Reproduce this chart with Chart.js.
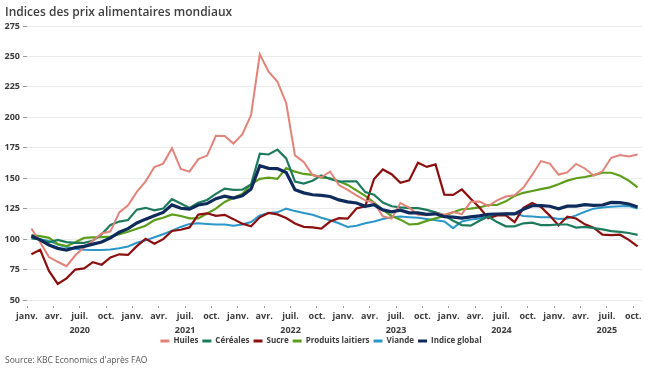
<!DOCTYPE html>
<html>
<head>
<meta charset="utf-8">
<script src="https://cdn.jsdelivr.net/npm/chart.js@4.4.1/dist/chart.umd.min.js"></script>
<style>
  html, body { margin: 0; padding: 0; background: #fff; }
  #wrap { position: relative; width: 652px; height: 371px; }
  #title { position: absolute; left: 5px; top: 3px; font: 600 12px "Open Sans", sans-serif; color: #404040; }
  #source { position: absolute; left: 5px; top: 354px; font: 400 8.5px "Open Sans", sans-serif; color: #555; }
</style>
</head>
<body>
<div id="wrap">
  <canvas id="chart" width="652" height="371"></canvas>
  <div id="title">Indices des prix alimentaires mondiaux</div>
  <div id="source">Source: KBC Economics d'après FAO</div>
</div>
<script>
// --- Data: monthly, janv. 2020 -> oct. 2025 ---
const tickMonths = ['janv.', 'avr.', 'juil.', 'oct.'];
const tickYears = ['2020', '2021', '2022', '2023', '2024', '2025'];

const huiles = [
  108.7, 97.5, 85.3, 81.4, 77.8, 86.7, 93.2, 98.7, 104.6, 106.4, 121.9, 127.8,
  138.8, 147.4, 159.2, 162.0, 174.7, 157.6, 155.4, 165.7, 168.6, 184.8, 184.6, 178.5,
  185.9, 201.7, 251.8, 237.5, 229.3, 211.8, 168.8, 163.3, 152.6, 150.8, 155.5, 144.4,
  140.4, 135.9, 131.8, 130.0, 118.7, 116.8, 129.6, 125.8, 120.0, 119.6, 121.3, 120.0,
  122.3, 120.5, 130.6, 130.9, 127.2, 131.8, 135.0, 136.0, 142.4, 152.7, 164.1, 162.0,
  153.0, 154.8, 161.8, 158.0, 152.2, 155.7, 166.8, 169.1, 167.9, 169.4
];
const cereales = [
  100.6, 99.7, 97.4, 99.3, 97.5, 96.9, 96.9, 98.7, 104.0, 111.6, 114.4, 115.7,
  124.2, 125.7, 123.6, 125.1, 132.8, 129.3, 125.5, 129.8, 132.1, 137.1, 141.5, 140.5,
  140.6, 144.8, 170.1, 169.5, 173.5, 166.3, 147.3, 145.6, 147.9, 152.3, 149.3, 147.3,
  147.5, 147.4, 138.6, 136.5, 130.0, 127.0, 126.0, 125.5, 125.5, 124.0, 122.0, 119.5,
  115.0, 111.5, 111.0, 115.0, 118.5, 114.0, 110.5, 110.5, 113.0, 113.5, 111.5, 111.5,
  112.0, 112.0, 109.5, 110.0, 109.0, 108.0, 106.5, 106.0, 105.0, 103.5
];
const sucre = [
  87.5, 91.3, 73.9, 63.2, 67.8, 75.0, 76.0, 81.1, 79.0, 85.0, 87.5, 87.0,
  94.2, 100.2, 96.2, 100.0, 106.7, 107.7, 109.6, 120.1, 121.2, 119.1, 119.9, 116.4,
  112.7, 110.6, 117.9, 121.5, 120.3, 117.3, 112.8, 110.1, 109.7, 108.6, 114.4, 117.2,
  116.8, 125.2, 127.0, 149.4, 157.2, 153.3, 146.3, 148.2, 162.7, 159.3, 161.4, 136.5,
  136.3, 140.8, 133.1, 125.9, 117.1, 119.4, 119.5, 113.9, 125.7, 129.6, 126.4, 119.3,
  111.2, 118.5, 116.9, 112.1, 109.4, 103.7, 103.3, 103.6, 99.4, 94.1
];
const laitiers = [
  103.3, 102.5, 101.0, 96.0, 94.2, 97.5, 101.0, 101.5, 101.6, 102.0, 104.0, 106.0,
  108.5, 111.0, 115.6, 117.5, 120.3, 119.0, 117.0, 117.0, 121.0, 125.0, 130.5, 134.0,
  137.0, 145.0, 149.5, 150.5, 149.5, 158.3, 155.4, 153.5, 152.7, 150.5, 150.0, 147.5,
  144.5, 140.0, 135.5, 130.0, 124.0, 119.0, 116.0, 112.0, 112.5, 115.0, 117.0, 119.0,
  122.0, 124.5, 125.0, 126.0, 128.0, 128.0, 131.0, 135.5, 138.0, 139.5, 141.0, 142.5,
  145.0, 148.0, 150.0, 151.0, 152.5, 154.5, 154.5, 152.0, 148.0, 142.5
];
const viande = [
  101.8, 100.0, 98.5, 95.5, 93.5, 92.0, 91.2, 91.0, 91.0, 91.5, 92.5, 94.0,
  97.0, 99.0, 101.5, 104.0, 107.0, 110.0, 112.5, 113.0, 112.5, 112.0, 112.0, 111.0,
  112.0, 114.0, 119.5, 121.5, 122.0, 125.0, 123.0, 121.5, 120.0, 117.5, 115.5, 113.0,
  110.0, 111.0, 113.0, 114.5, 116.5, 118.0, 118.5, 118.0, 117.5, 116.5, 115.5, 114.5,
  109.0, 114.5, 116.0, 117.0, 118.5, 120.0, 121.0, 121.0, 119.0, 118.5, 118.0, 118.0,
  116.5, 117.0, 119.5, 122.5, 125.0, 126.0, 126.5, 127.0, 127.2, 125.2
];
const indiceGlobal = [
  102.5, 99.4, 95.1, 92.4, 91.0, 93.1, 94.0, 95.9, 97.6, 101.0, 105.6, 108.6,
  113.3, 116.4, 119.2, 121.9, 128.1, 125.3, 124.6, 128.0, 129.2, 133.2, 135.3, 133.7,
  135.6, 141.1, 160.2, 158.1, 157.9, 154.7, 140.6, 138.0, 136.4, 135.9, 135.0, 132.2,
  130.6, 129.7, 127.0, 128.2, 124.0, 122.4, 123.8, 121.6, 121.5, 120.4, 120.8, 118.5,
  118.0, 117.3, 118.3, 119.1, 120.4, 120.6, 120.8, 120.7, 124.4, 127.4, 127.5, 127.0,
  124.9, 127.1, 127.1, 128.3, 127.7, 128.0, 130.1, 130.0, 128.8, 126.4
];

// month index -> point in the middle of the month
const toPoints = arr => arr.map((v, i) => ({ x: i + 0.5, y: v }));

const series = [
  { label: 'Huiles', data: huiles, color: '#e2837a', width: 2 },
  { label: 'Céréales', data: cereales, color: '#1d7a5d', width: 2.2 },
  { label: 'Sucre', data: sucre, color: '#8c0f0f', width: 2.2 },
  { label: 'Produits laitiers', data: laitiers, color: '#5c9e1c', width: 2.2 },
  { label: 'Viande', data: viande, color: '#2b97c9', width: 2 },
  { label: 'Indice global', data: indiceGlobal, color: '#0e2b5c', width: 3.2 },
];

const tickValues = [];
for (let m = 0; m < huiles.length; m += 3) tickValues.push(m);

function tickLabel(value) {
  const month = tickMonths[(value / 3) % 4];
  if (month === 'juil.') return [month, tickYears[Math.floor(value / 12)]];
  return month;
}

const labelFont = { family: '"Open Sans", sans-serif', size: 9, weight: '700' };

new Chart(document.getElementById('chart'), {
  type: 'line',
  data: {
    datasets: series.map((s, i) => ({
      label: s.label,
      data: toPoints(s.data),
      borderColor: s.color,
      backgroundColor: s.color,
      borderWidth: s.width,
      pointRadius: 0,
      tension: 0,
      order: s.label === 'Indice global' ? -1 : i,
    })),
  },
  options: {
    responsive: false,
    devicePixelRatio: 1,
    animation: false,
    layout: { padding: { top: 26, right: 10, bottom: 16, left: 0 } },
    scales: {
      x: {
        type: 'linear',
        min: 0,
        max: huiles.length,
        afterBuildTicks: scale => { scale.ticks = tickValues.map(v => ({ value: v })); },
        afterFit: scale => { scale.height = 33; },
        border: { display: false },
        grid: {
          drawOnChartArea: false,
          tickLength: 9,
          tickColor: '#9a9a9a',
          tickBorderDash: [0, 6, 2, 50],
        },
        ticks: {
          autoSkip: false,
          maxRotation: 0,
          padding: 1,
          color: '#3c3c3c',
          font: { ...labelFont, lineHeight: 1.5 },
          callback: v => tickLabel(v),
        },
      },
      y: {
        min: 50,
        max: 275,
        afterFit: scale => { scale.width = 27; },
        border: { display: false },
        grid: {
          color: '#ebebeb',
          lineWidth: 1,
          tickLength: 6,
          tickColor: '#9a9a9a',
          tickBorderDash: [0, 2, 4, 50],
        },
        ticks: {
          stepSize: 25,
          padding: 1,
          color: '#3c3c3c',
          font: labelFont,
        },
      },
    },
    plugins: {
      legend: {
        position: 'bottom',
        labels: {
          boxWidth: 9,
          boxHeight: 3,
          padding: 4,
          color: '#3c3c3c',
          font: { ...labelFont, size: 8 },
          generateLabels: chart => chart.data.datasets.map((d, i) => ({
            text: d.label,
            fillStyle: d.borderColor,
            strokeStyle: d.borderColor,
            lineWidth: 0,
            fontColor: '#3c3c3c',
            datasetIndex: i,
          })),
        },
      },
      tooltip: { enabled: false },
    },
  },
});
</script>
</body>
</html>
